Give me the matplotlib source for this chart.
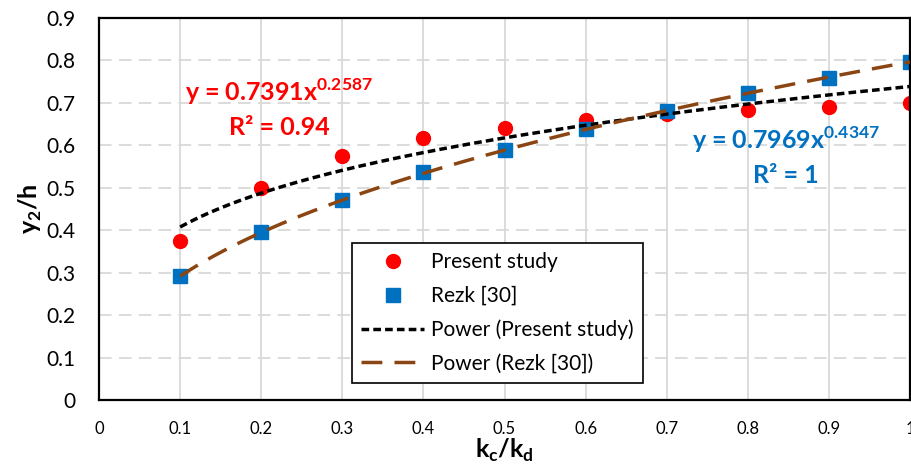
import matplotlib.pyplot as plt
import numpy as np
from matplotlib.lines import Line2D

plt.rcParams['font.family'] = ['Lato', 'DejaVu Sans']
plt.rcParams['mathtext.fontset'] = 'custom'
plt.rcParams['mathtext.rm'] = 'Lato'
plt.rcParams['mathtext.bf'] = 'Lato:bold'

# datos
kc_kd = [0.1, 0.2, 0.3, 0.4, 0.5, 0.6, 0.7, 0.8, 0.9, 1.0]
present = [0.375, 0.500, 0.574, 0.617, 0.642, 0.660, 0.673, 0.683, 0.691, 0.699]
rezk = [0.291, 0.395, 0.471, 0.536, 0.589, 0.638, 0.681, 0.723, 0.759, 0.796]
xticks = [0, 0.1, 0.2, 0.3, 0.4, 0.5, 0.6, 0.7, 0.8, 0.9, 1]
xlabels = ["0", "0.1", "0.2", "0.3", "0.4", "0.5", "0.6", "0.7", "0.8", "0.9", "1"]
yticks = [0, 0.1, 0.2, 0.3, 0.4, 0.5, 0.6, 0.7, 0.8, 0.9]
ylabels = ["0", "0.1", "0.2", "0.3", "0.4", "0.5", "0.6", "0.7", "0.8", "0.9"]

rojo = "#FF0000"
azul = "#0070C0"
cafe = "#8B4513"

# ajuste potencial y = a*x^b (log-log)
def ajuste(x, y):
    b, loga = np.polyfit(np.log(x), np.log(y), 1)
    return np.exp(loga), b

xs = np.linspace(0.1, 1.0, 200)
a1, b1 = ajuste(kc_kd, present)
a2, b2 = ajuste(kc_kd, rezk)

fig = plt.figure(figsize=(9.12, 4.72), dpi=100)
ax = fig.add_axes([0.1086, 0.1525, 0.8892, 0.8094])

ax.plot(xs, a1 * xs**b1, color="black", lw=2.5, dashes=(2.2, 1.2), zorder=3)
ax.plot(xs, a2 * xs**b2, color=cafe, lw=2.5, dashes=(6, 3.5), zorder=3)
ax.plot(kc_kd, present, "o", color=rojo, ms=10, zorder=2)
ax.plot(kc_kd, rezk, "s", color=azul, ms=9.5, zorder=2)

ax.set_xlim(0, 1)
ax.set_ylim(0, 0.9)
ax.set_xticks(xticks)
ax.set_xticklabels(xlabels, fontsize=12)
ax.set_yticks(yticks)
ax.set_yticklabels(ylabels, fontsize=15)
ax.tick_params(length=0)
ax.tick_params(axis="x", pad=15)
ax.tick_params(axis="y", pad=17)

ax.grid(axis="x", color="#D9D9D9", lw=1.3, ls="-")
ax.grid(axis="y", color="#D9D9D9", lw=1.3, ls=(0, (7, 4)))
ax.set_axisbelow(True)
for s in ax.spines.values():
    s.set_linewidth(1.6)
    s.set_color("black")

ax.set_xlabel(r"k$_{\mathbf{c}}$/k$_{\mathbf{d}}$", fontsize=18, fontweight="bold", labelpad=0)
ax.set_ylabel(r"y$_{\mathbf{2}}$/h", fontsize=18, fontweight="bold", labelpad=2)

# ecuaciones de las curvas
ax.text(0.222, 0.726, r"y = 0.7391x$^{\mathbf{0.2587}}$", color=rojo, fontsize=18,
        fontweight="bold", ha="center", va="center")
ax.text(0.222, 0.643, "R² = 0.94", color=rojo, fontsize=18, fontweight="bold",
        ha="center", va="center")
ax.text(0.847, 0.613, r"y = 0.7969x$^{\mathbf{0.4347}}$", color=azul, fontsize=18,
        fontweight="bold", ha="center", va="center")
ax.text(0.847, 0.530, "R² = 1", color=azul, fontsize=18, fontweight="bold",
        ha="center", va="center")

handles = [
    Line2D([], [], ls="none", marker="o", color=rojo, ms=10),
    Line2D([], [], ls="none", marker="s", color=azul, ms=9.5),
    Line2D([], [], color="black", lw=2.5, dashes=(2.2, 1.2)),
    Line2D([], [], color=cafe, lw=2.5, dashes=(6, 3.5)),
]
nombres = ["Present study", "Rezk [30]", "Power (Present study)", "Power (Rezk [30])"]
leg = ax.legend(handles, nombres, loc="upper left", bbox_to_anchor=(0.312, 0.411),
                borderaxespad=0, fontsize=15, fancybox=False, edgecolor="black",
                framealpha=1, handlelength=3.0, handletextpad=0.35, labelspacing=0.65,
                borderpad=0.45)
leg.get_frame().set_linewidth(1.2)

plt.savefig("out.png", dpi=100)
